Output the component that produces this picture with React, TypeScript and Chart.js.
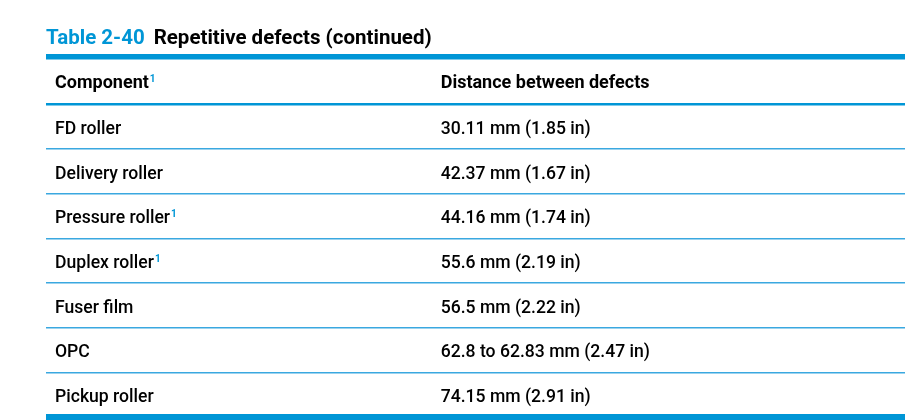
import React, { useEffect, useRef } from "react";
import { Chart, registerables } from "chart.js";

Chart.register(...registerables);

// ---- data ----
const titleNumber = "Table 2-40";
const titleText = "Repetitive defects (continued)";
const headers = ["Component", "Distance between defects"];
const headerFootnotes = [true, false];
const components = [
  "FD roller",
  "Delivery roller",
  "Pressure roller",
  "Duplex roller",
  "Fuser film",
  "OPC",
  "Pickup roller",
];
const componentFootnotes = [false, false, true, true, false, false, false];
const distances = [
  "30.11 mm (1.85 in)",
  "42.37 mm (1.67 in)",
  "44.16 mm (1.74 in)",
  "55.6 mm (2.19 in)",
  "56.5 mm (2.22 in)",
  "62.8 to 62.83 mm (2.47 in)",
  "74.15 mm (2.91 in)",
];
const columnStarts = [0, 0.449];
const footnoteMark = "1";

// ---- style ----
const HP_BLUE = "#0096d6";
const ROW_BLUE = "#3aa8e0";
const FONT = "Roboto";

const rowLabels = ["header", ...components];

const tablePlugin = {
  id: "tableText",
  afterDraw(chart: any) {
    const { ctx, chartArea } = chart;
    const xs = chart.scales.x;
    const ys = chart.scales.y;
    ctx.save();
    // top thick rule
    ctx.fillStyle = HP_BLUE;
    ctx.fillRect(chartArea.left, chartArea.top - 5.5, chartArea.right - chartArea.left, 5.5);

    // title
    ctx.textBaseline = "alphabetic";
    ctx.textAlign = "left";
    ctx.font = `bold 20.5px ${FONT}`;
    ctx.fillStyle = HP_BLUE;
    const tx = chartArea.left;
    const ty = chartArea.top - 16;
    ctx.fillText(titleNumber, tx, ty);
    const w = ctx.measureText(titleNumber).width;
    ctx.fillStyle = "#000";
    ctx.fillText(titleText, tx + w + 9, ty);

    const pad = 9;
    const drawCell = (text: string, col: number, row: number, bold: boolean, foot: boolean) => {
      const x = xs.getPixelForValue(columnStarts[col]) + pad;
      const y = ys.getPixelForValue(row) + (bold ? 6.5 : 7.5);
      ctx.font = `${bold ? "bold" : "500"} ${bold ? 18 : 17.6}px ${FONT}`;
      ctx.fillStyle = "#000";
      ctx.fillText(text, x, y);
      if (foot) {
        const tw = ctx.measureText(text).width;
        ctx.font = `bold 10px ${FONT}`;
        ctx.fillStyle = HP_BLUE;
        ctx.fillText(footnoteMark, x + tw + 1, y - 6);
      }
    };
    headers.forEach((h, i) => drawCell(h, i, 0, true, headerFootnotes[i]));
    components.forEach((c, i) => {
      drawCell(c, 0, i + 1, false, componentFootnotes[i]);
      drawCell(distances[i], 1, i + 1, false, false);
    });
    ctx.restore();
  },
};

export default function App() {
  const ref = useRef<HTMLCanvasElement>(null);
  useEffect(() => {
    const canvas = ref.current!;
    const chart = new Chart(canvas, {
      type: "scatter",
      data: {
        datasets: [
          {
            data: rowLabels.map((r) => ({ x: 0, y: r })) as any,
            pointRadius: 0,
            showLine: false,
          },
        ],
      },
      options: {
        animation: false,
        responsive: false,
        devicePixelRatio: 1,
        events: [],
        layout: { padding: { top: 59.5, left: 46, right: 0, bottom: 3 } },
        plugins: { legend: { display: false }, tooltip: { enabled: false }, title: { display: false } },
        scales: {
          x: { type: "linear", min: 0, max: 1, display: false },
          y: {
            type: "category",
            labels: rowLabels,
            offset: true,
            position: "left",
            border: { display: false },
            ticks: { display: false },
            grid: {
              offset: true,
              drawTicks: false,
              tickLength: 0,
              lineWidth: (c: any) =>
                c.type !== "tick" ? 6 : c.index === 0 ? 0 : c.index === 1 ? 2.5 : 1.5,
              color: (c: any) => (c.type !== "tick" || c.index === 1 ? HP_BLUE : ROW_BLUE),
            },
          },
        },
      },
      plugins: [tablePlugin],
    });
    return () => chart.destroy();
  }, []);
  return (
    <div style={{ position: "absolute", left: 0, top: 0, width: 905, height: 420, background: "#fff" }}>
      <canvas ref={ref} width={905} height={420} style={{ display: "block" }} />
    </div>
  );
}
